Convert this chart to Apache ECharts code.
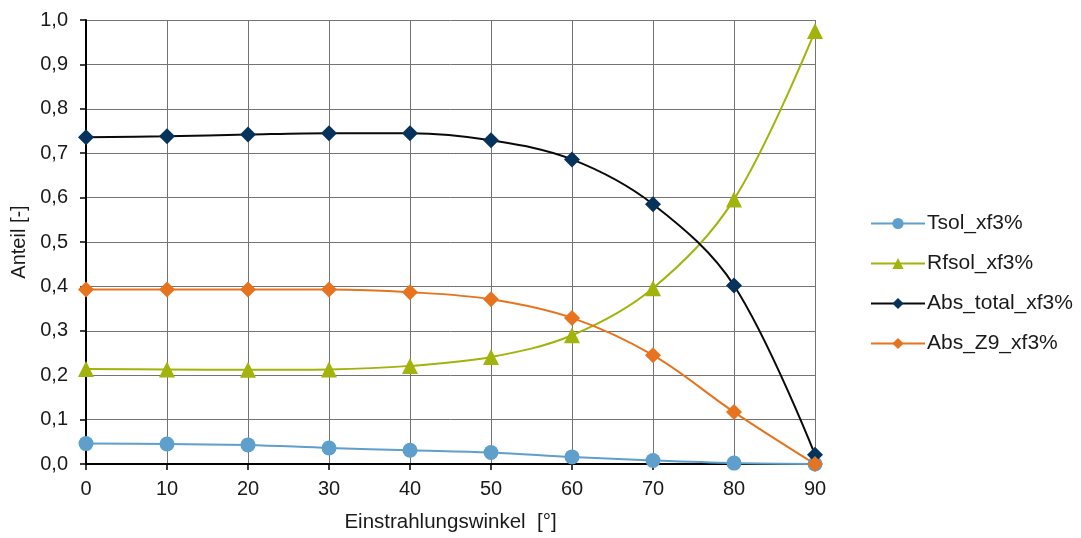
<!DOCTYPE html>
<html>
<head>
<meta charset="utf-8">
<script src="https://cdn.jsdelivr.net/npm/echarts@6/dist/echarts.min.js"></script>
<style>
html,body{margin:0;padding:0;background:#fff;}
#chart{width:1081px;height:538px;}
</style>
</head>
<body>
<div id="chart"></div>
<script>
const angles = [0, 10, 20, 30, 40, 50, 60, 70, 80, 90];
const tsol = [0.046, 0.045, 0.043, 0.036, 0.031, 0.026, 0.016, 0.008, 0.002, 0.000];
const rfsol = [0.214, 0.213, 0.212, 0.213, 0.221, 0.241, 0.290, 0.396, 0.596, 0.975];
const absTotal = [0.736, 0.738, 0.742, 0.745, 0.745, 0.729, 0.686, 0.585, 0.402, 0.021];
const absZ9 = [0.393, 0.393, 0.393, 0.393, 0.387, 0.371, 0.329, 0.245, 0.117, 0.000];
const seriesNames = ['Tsol_xf3%', 'Rfsol_xf3%', 'Abs_total_xf3%', 'Abs_Z9_xf3%'];
const yTicks = ['0,0','0,1','0,2','0,3','0,4','0,5','0,6','0,7','0,8','0,9','1,0'];

const pair = arr => angles.map((a, i) => [a, arr[i]]);
const font = 'Liberation Sans, Arial, sans-serif';

const chart = echarts.init(document.getElementById('chart'), null, {renderer: 'canvas'});
chart.setOption({
  animation: false,
  backgroundColor: '#fff',
  textStyle: {fontFamily: font},
  grid: {left: 86, right: 266, top: 20, bottom: 72, containLabel: false},
  legend: {
    orient: 'vertical',
    left: 865,
    top: 208,
    itemGap: 19,
    itemWidth: 54,
    itemHeight: 14,
    textStyle: {fontFamily: font, fontSize: 21, color: '#1a1a1a', padding: [0,0,0,-3]},
    data: seriesNames
  },
  xAxis: {
    type: 'value', min: 0, max: 90, interval: 10,
    name: 'Einstrahlungswinkel  [°]', nameLocation: 'middle', nameGap: 48,
    nameTextStyle: {fontFamily: font, fontSize: 20.5, color: '#1a1a1a'},
    axisLine: {show: true, onZero: false, lineStyle: {color: '#000', width: 2}},
    axisTick: {show: true, length: 6, lineStyle: {color: '#000', width: 1.5}},
    axisLabel: {fontFamily: font, fontSize: 20, color: '#1a1a1a', margin: 15},
    splitLine: {show: true, lineStyle: {color: '#737373', width: 1}}
  },
  yAxis: {
    type: 'value', min: 0, max: 1, interval: 0.1,
    name: 'Anteil [-]', nameLocation: 'middle', nameGap: 56, nameRotate: 90,
    nameTextStyle: {fontFamily: font, fontSize: 20, color: '#1a1a1a'},
    axisLine: {show: true, onZero: false, lineStyle: {color: '#000', width: 2}},
    axisTick: {show: true, length: 6, lineStyle: {color: '#000', width: 1.5}},
    axisLabel: {fontFamily: font, fontSize: 20, color: '#1a1a1a', margin: 18,
      formatter: v => yTicks[Math.round(v * 10)]},
    splitLine: {show: true, lineStyle: {color: '#737373', width: 1}}
  },
  series: [
    {name: seriesNames[0], type: 'line', smooth: 0.35, data: pair(tsol),
     symbol: 'circle', symbolSize: 15,
     lineStyle: {color: '#5f9fcc', width: 2}, itemStyle: {color: '#5f9fcc'}},
    {name: seriesNames[1], type: 'line', smooth: 0.35, data: pair(rfsol),
     symbol: 'triangle', symbolSize: 16,
     lineStyle: {color: '#a2b30c', width: 2}, itemStyle: {color: '#a2b30c'}},
    {name: seriesNames[2], type: 'line', smooth: 0.35, data: pair(absTotal),
     symbol: 'diamond', symbolSize: 16,
     lineStyle: {color: '#0a0a0a', width: 2}, itemStyle: {color: '#06335c'}},
    {name: seriesNames[3], type: 'line', smooth: 0.35, data: pair(absZ9),
     symbol: 'diamond', symbolSize: 16,
     lineStyle: {color: '#e8731f', width: 2}, itemStyle: {color: '#e8731f'}}
  ]
});
</script>
</body>
</html>
